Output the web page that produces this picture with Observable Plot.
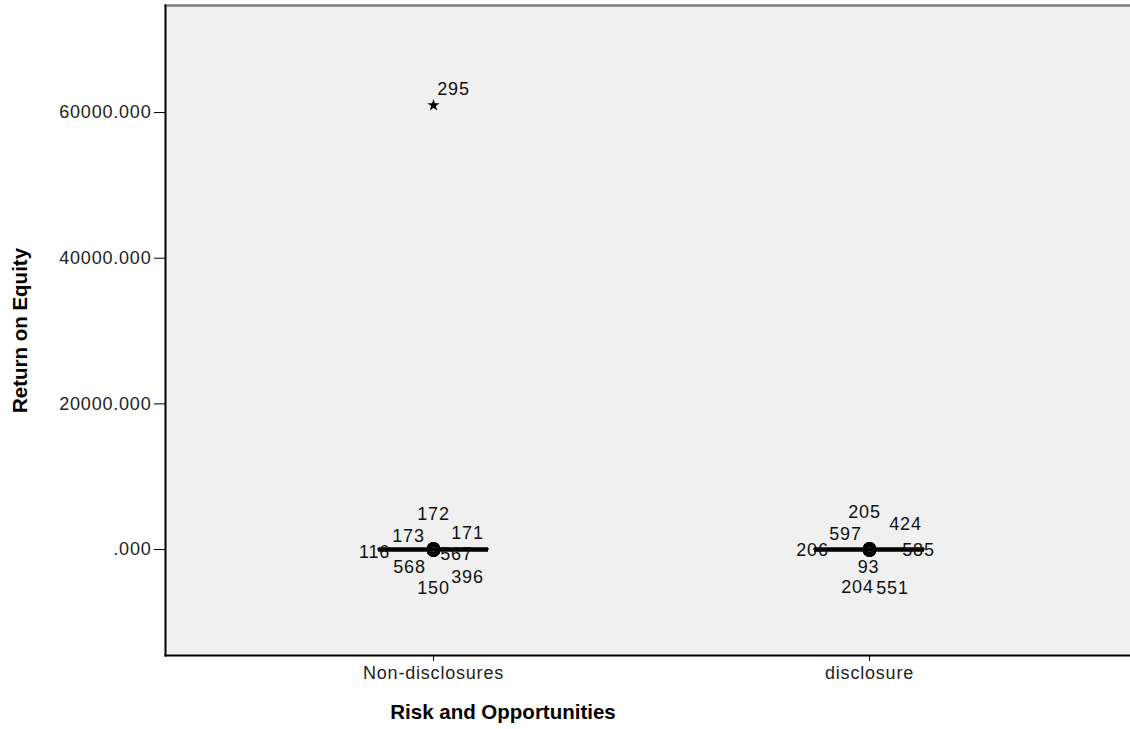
<!DOCTYPE html>
<html>
<head>
<meta charset="utf-8">
<script src="https://cdn.jsdelivr.net/npm/d3@7"></script>
<script src="https://cdn.jsdelivr.net/npm/@observablehq/plot@0.6"></script>
<style>
  html, body { margin: 0; padding: 0; background: #ffffff; overflow: hidden; }
  .lbl text, text.lbl { letter-spacing: 0.8px; }
</style>
</head>
<body>
<div id="chart"></div>
<script>
// ---- data ----
const categories = ["Non-disclosures", "disclosure"];
const boxQ1 = [-6, -5];
const boxMedian = [4, 3];
const boxQ3 = [14, 12];
const whiskerLow = [-45, -40];
const whiskerHigh = [62, 55];

const outlierCategory = [
  "Non-disclosures", "Non-disclosures", "Non-disclosures", "Non-disclosures",
  "Non-disclosures", "Non-disclosures", "Non-disclosures", "Non-disclosures",
  "disclosure", "disclosure", "disclosure", "disclosure",
  "disclosure", "disclosure", "disclosure", "disclosure"
];
const outlierId = ["172", "173", "171", "116", "567", "568", "396", "150",
                   "205", "424", "597", "206", "585", "93", "204", "551"];
const outlierValue = [110, 90, 80, -60, 70, -50, -80, -100,
                      100, 95, 75, -40, 60, -70, -110, -90];

const extremeCategory = ["Non-disclosures"];
const extremeId = ["295"];
const extremeValue = [61000];

const yTicks = [0, 20000, 40000, 60000];

// ---- layout (label offsets from their point, in px) ----
const labelOffset = {
  "172": [0, -34], "173": [-25, -13], "171": [34, -16], "116": [-59, 2],
  "567": [23, 5], "568": [-24, 17], "396": [34, 27], "150": [0, 38],
  "205": [-5, -37], "424": [36, -25], "597": [-24, -15], "206": [-57, 0],
  "585": [49, 1], "93": [-1, 17], "204": [-12, 37], "551": [23, 38],
  "295": [20, -16]
};

const boxData = categories.map((c, i) => ({
  category: c, q1: boxQ1[i], median: boxMedian[i], q3: boxQ3[i],
  lo: whiskerLow[i], hi: whiskerHigh[i]
}));
const outliers = outlierId.map((id, i) => ({category: outlierCategory[i], id, value: outlierValue[i]}));
const extremes = extremeId.map((id, i) => ({category: extremeCategory[i], id, value: extremeValue[i]}));

const font = '"Liberation Sans", Arial, sans-serif';
const fmt = d => d === 0 ? ".000" : d.toFixed(3);

const labelMarks = [...outliers, ...extremes].map(o =>
  Plot.text([o], {
    x: "category", y: "value", text: "id",
    dx: labelOffset[o.id][0], dy: labelOffset[o.id][1],
    fontSize: 18, fill: "#111", textAnchor: "middle", lineAnchor: "middle",
    className: "lbl"
  })
);

const chart = Plot.plot({
  width: 1136,
  height: 729,
  marginLeft: 165,
  marginRight: 0,
  marginTop: 5,
  marginBottom: 74,
  style: {fontFamily: font, fontSize: "18px", color: "#000", background: "transparent", maxWidth: "none"},
  x: {type: "band", domain: categories, paddingInner: 0.748, paddingOuter: 0.485, align: 0.5},
  y: {domain: [-14550, 74700]},
  marks: [
    Plot.frame({fill: "#f0f0f0", stroke: "none"}),
    Plot.frame({anchor: "top", stroke: "#808080", strokeWidth: 2.5}),
    Plot.ruleX(boxData, {x: "category", y1: "lo", y2: "q1", stroke: "black", strokeWidth: 1.5}),
    Plot.ruleX(boxData, {x: "category", y1: "q3", y2: "hi", stroke: "black", strokeWidth: 1.5}),
    Plot.barY(boxData, {x: "category", y1: "q1", y2: "q3", fill: "none", stroke: "black", strokeWidth: 1.5}),
    Plot.tickY(boxData, {x: "category", y: "median", stroke: "black", strokeWidth: 4.5}),
    Plot.dot(outliers, {x: "category", y: "value", r: 5, stroke: "black", strokeWidth: 3.5, fill: "none"}),
    Plot.dot(extremes, {x: "category", y: "value", symbol: "star", r: 3.8, fill: "black"}),
    ...labelMarks,
    Plot.axisY({ticks: yTicks, tickFormat: fmt, tickSize: 11, tickPadding: 3, label: null, fontSize: 18, fill: "#222", className: "lbl"}),
    Plot.axisX({tickSize: 6, tickPadding: 5, label: null, fontSize: 18, fill: "#222", className: "lbl"}),
    Plot.frame({anchor: "left", stroke: "black", strokeWidth: 2}),
    Plot.frame({anchor: "bottom", stroke: "black", strokeWidth: 2}),
    Plot.text(["Return on Equity"], {text: d => d, frameAnchor: "left", dx: -145, rotate: -90,
      textAnchor: "middle", lineAnchor: "middle",
      fontWeight: "bold", fontSize: 20.5, fill: "#000"}),
    Plot.text(["Risk and Opportunities"], {text: d => d, frameAnchor: "bottom", dy: 57, dx: -148,
      textAnchor: "middle", lineAnchor: "middle",
      fontWeight: "bold", fontSize: 20.5, fill: "#000"})
  ]
});
document.getElementById("chart").appendChild(chart);
</script>
</body>
</html>
